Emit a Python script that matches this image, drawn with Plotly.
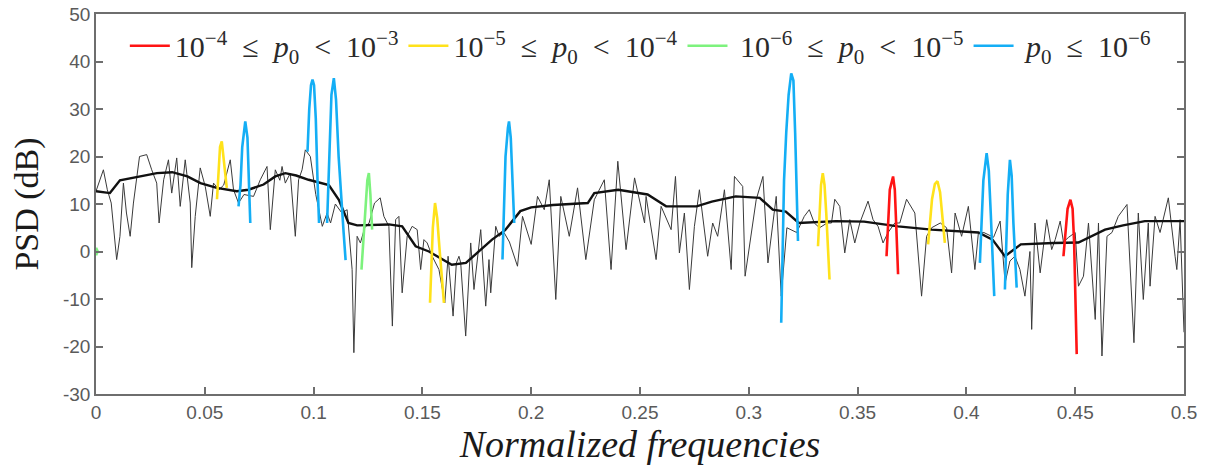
import plotly.graph_objects as go

# ---------------- data ----------------
noisy_freq = [
    0.0, 0.0034, 0.0052, 0.007, 0.0095, 0.011, 0.0126, 0.014, 0.0157, 0.0172,
    0.02, 0.0233, 0.0256, 0.0279, 0.029, 0.0311, 0.0333, 0.0348, 0.0371, 0.0387,
    0.041, 0.0433, 0.044, 0.0456, 0.0479, 0.0502, 0.0525, 0.054, 0.0565, 0.0587,
    0.0617, 0.0632, 0.0655, 0.068, 0.0724, 0.0755, 0.0786, 0.0801, 0.0824, 0.0845,
    0.0855, 0.087, 0.0893, 0.0916, 0.0931, 0.0947, 0.0962, 0.0985, 0.101, 0.104,
    0.1062, 0.1078, 0.11, 0.113, 0.1154, 0.1177, 0.1185, 0.12, 0.1215, 0.1235,
    0.1255, 0.128, 0.1306, 0.1323, 0.1346, 0.1362, 0.1377, 0.1392, 0.1407, 0.143,
    0.1453, 0.1476, 0.1492, 0.1507, 0.1522, 0.1545, 0.1576, 0.1603, 0.1618, 0.1641,
    0.1656, 0.1668, 0.1676, 0.1699, 0.1722, 0.1737, 0.1768, 0.1791, 0.1806, 0.1814,
    0.1837, 0.1852, 0.1875, 0.19, 0.1937, 0.196, 0.2, 0.2029, 0.206, 0.2083,
    0.2113, 0.2136, 0.2175, 0.2213, 0.2251, 0.229, 0.2336, 0.2367, 0.2398, 0.2436,
    0.2475, 0.2521, 0.2528, 0.2551, 0.2574, 0.2597, 0.262, 0.2643, 0.2663, 0.2681,
    0.2704, 0.2727, 0.275, 0.2773, 0.2811, 0.2834, 0.2857, 0.2888, 0.2919, 0.2934,
    0.2972, 0.2983, 0.3034, 0.3065, 0.3088, 0.3126, 0.3149, 0.3175, 0.322, 0.3255,
    0.3278, 0.3301, 0.3325, 0.336, 0.338, 0.3395, 0.3418, 0.3441, 0.3464, 0.3487,
    0.351, 0.3548, 0.3571, 0.3594, 0.3617, 0.364, 0.3671, 0.3694, 0.3725, 0.3763,
    0.3794, 0.3817, 0.384, 0.388, 0.3909, 0.3932, 0.3948, 0.3978, 0.4009, 0.4039,
    0.4055, 0.408, 0.4125, 0.4155, 0.4178, 0.42, 0.4223, 0.4246, 0.4269, 0.4292,
    0.43, 0.4315, 0.4339, 0.4369, 0.4392, 0.4408, 0.4431, 0.4446, 0.447, 0.45,
    0.4515, 0.4538, 0.4561, 0.4592, 0.4607, 0.4623, 0.4646, 0.4669, 0.4698, 0.4738,
    0.477, 0.479, 0.4813, 0.4836, 0.4844, 0.4867, 0.489, 0.4928, 0.4959, 0.4967,
    0.4982, 0.5,
]
noisy_psd = [
    12.7, 17.2, 13, 10.2, -1.7, 3.2, 14.4, 8.1, 3.2, 10.2,
    20, 20.4, 17.2, 14.4, 6, 15.1, 19.3, 12.3, 19.7, 9.5,
    19.3, 10.2, -3.4, 7.4, 17.6, 13.7, 7.4, 14.4, 13, 14,
    19.3, 13, 10.2, 12, 11.6, 15.1, 17.9, 4.6, 17.2, 15,
    17.9, 14.4, 16.5, 3.2, 15.1, 17.2, 21.4, 20, 12, 5.3,
    8.1, 6, 10, 8.1, 8.8, -3.8, -21.3, 3.2, 1.8, 5,
    6, 10.2, 11.3, 7.4, 5.3, -15.7, 6.7, 7.4, -8.7, 3.2,
    5.3, 4.6, -3.8, 2.5, 1.8, -1, -3.8, -10.8, -1, -13.6,
    -2.4, -1, -2.4, -17.8, 1.8, -8, 4.6, -11.5, -1.7, -8.7,
    5.3, 3.2, 4, 2, -3.1, 7.4, 1.5, 11.6, 8.8, 15.1,
    -10.1, 11.6, 3.2, 13.4, -1.7, 10.9, 15.1, -3.8, 19, 0.4,
    15.5, 6, 11.6, 5.3, -1.7, 9.5, 7, 4.6, 15.8, -0.3,
    8.1, -8, 5.3, 13, -1, 6, 3.2, 13, -3.8, 15.8,
    13.7, -5.2, 10.9, 15.8, -2.4, 11.6, -9.4, 5, 4, 7.4,
    8.8, 6, 5, 6, 6, 11, 9.5, -0.3, 6.7, 1.8,
    6, 10.6, 6.7, 5.3, 1.8, 4, 6, 6, 11, 8.1,
    -9.4, 3.2, 5, 6, 5, -4.5, 8.1, 3.2, 9.5, -3.8,
    3.9, 4, 3, 6.4, -6.6, -2, -1, -3.8, -9.4, 0,
    -16.4, 6, -4.5, 6.7, 0.4, 2.5, 6.4, 2, 3, 4,
    -7.3, -5.2, 6, -14.3, 6, -22, 3.2, 4, 7.4, 9.9,
    -19.2, 8.1, -10.1, 6, -7.3, 7.4, 4, 11.3, -1, -3.8,
    6.7, -17,
]

smooth_freq = [
    0, 0.0064, 0.011, 0.02, 0.028, 0.035, 0.042, 0.048, 0.0555, 0.0647,
    0.07, 0.077, 0.0824, 0.087, 0.092, 0.0977, 0.107, 0.1116, 0.116, 0.12,
    0.1346, 0.1407, 0.1469, 0.153, 0.159, 0.1635, 0.17, 0.176, 0.182, 0.188,
    0.195, 0.2, 0.21, 0.226, 0.229, 0.24, 0.2535, 0.262, 0.276, 0.283,
    0.294, 0.305, 0.311, 0.317, 0.323, 0.34, 0.353, 0.3686, 0.384, 0.4055,
    0.412, 0.4177, 0.425, 0.44, 0.4515, 0.4637, 0.472, 0.482, 0.5,
]
smooth_psd = [
    12.7, 12.3, 15, 15.8, 16.5, 16.7, 15.8, 14.4, 13.4, 12.7,
    13, 14.1, 15.8, 16.5, 16, 15.1, 14, 10.9, 6, 5.5,
    5.7, 5.3, 1.1, 0, -1.7, -2.8, -2.4, 0, 2.5, 4.5,
    8.5, 9.3, 9.8, 10.2, 12.3, 13, 12, 9.5, 9.5, 10.5,
    11.6, 11.3, 8.8, 8.4, 6, 6.4, 6.3, 5.3, 4.6, 4,
    2.5, -1, 1.5, 1.8, 1.9, 4.6, 5.5, 6.4, 6.4,
]

# colored detections (None separates separate peaks)
red_freq = [0.3633, 0.364, 0.3648, 0.3663, 0.3671, 0.3678, 0.3686, None,
            0.4446, 0.4455, 0.4465, 0.4478, 0.4488, 0.4495, 0.45, 0.4507]
red_psd = [-1, 7, 13, 15.8, 13, 5, -4.8, None,
           -1, 4, 9, 10.9, 9, 2, -8, -21.6]

yellow_freq = [0.0556, 0.0563, 0.057, 0.0578, 0.0586, 0.0594, 0.0601, None,
               0.1535, 0.154, 0.1548, 0.1558, 0.1568, 0.1578, 0.1588, 0.1599, None,
               0.3318, 0.3325, 0.3332, 0.334, 0.3348, 0.3356, 0.3363, 0.3371, None,
               0.3824, 0.3832, 0.3842, 0.3855, 0.3867, 0.3879, 0.389, 0.3901]
yellow_psd = [11, 17, 22, 23.2, 20, 16, 13.4, None,
              -10.8, -3, 5, 10.2, 7, 1, -5, -10.8, None,
              1.1, 8, 14, 16.5, 14, 8, 1, -5.9, None,
              1.5, 6, 11, 14.2, 14.8, 12.5, 7, 1.8]

green_freq = [0.0, 0.0008, 0.0, None,
              0.122, 0.1228, 0.1238, 0.1247, 0.1254, 0.1261, 0.1269]
green_psd = [0.8, 0, -0.8, None,
             -3.8, 2, 10, 15, 16.5, 12, 4.6]

blue_freq = [0.0655, 0.0664, 0.0672, 0.0686, 0.0696, 0.0702, 0.0709, None,
             0.0972, 0.098, 0.0988, 0.0995, 0.1002, 0.101, 0.1018, 0.1025, None,
             0.1062, 0.1072, 0.1082, 0.1093, 0.1103, 0.1115, 0.1128, 0.1138, 0.1147, None,
             0.1868, 0.1874, 0.1882, 0.1893, 0.1898, 0.1906, 0.1914, 0.1922, None,
             0.3149, 0.3155, 0.3162, 0.3172, 0.3183, 0.3195, 0.3205, 0.3213, 0.322, 0.3226, None,
             0.4062, 0.407, 0.4078, 0.4093, 0.4103, 0.4112, 0.412, 0.4128, None,
             0.4177, 0.4183, 0.419, 0.42, 0.4208, 0.4216, 0.4224, 0.4231]
blue_psd = [9.5, 14, 22, 27.4, 24, 16, 6, None,
            21, 30, 35, 36.2, 35, 28, 15, 6, None,
            6, 20, 33, 36.5, 32, 20, 10, 4, -1.8, None,
            -1.7, 10, 20, 26, 27.4, 24, 14, 6, None,
            -15, 0, 15, 25, 33, 37.5, 36, 25, 12, 2.2, None,
            -2.4, 8, 15, 20.7, 17, 8, 0, -9.4, None,
            -8, 2, 12, 19.3, 16, 6, -2, -7.6]

legend_labels = [
    "10<sup>−4</sup>&nbsp; ≤ &nbsp;<i>p</i><sub>0</sub>&nbsp; &lt; &nbsp;10<sup>−3</sup>",
    "10<sup>−5</sup>&nbsp; ≤ &nbsp;<i>p</i><sub>0</sub>&nbsp; &lt; &nbsp;10<sup>−4</sup>",
    "&nbsp;10<sup>−6</sup>&nbsp; ≤ &nbsp;<i>p</i><sub>0</sub>&nbsp; &lt; &nbsp;10<sup>−5</sup>",
    "&nbsp;<i>p</i><sub>0</sub>&nbsp; ≤ &nbsp;10<sup>−6</sup>",
]

x_ticks = [0, 0.05, 0.1, 0.15, 0.2, 0.25, 0.3, 0.35, 0.4, 0.45, 0.5]
x_tick_text = ["0", "0.05", "0.1", "0.15", "0.2", "0.25", "0.3", "0.35", "0.4", "0.45", "0.5"]
y_ticks = [-30, -20, -10, 0, 10, 20, 30, 40, 50]
y_tick_text = ["-30", "-20", "-10", "0", "10", "20", "30", "40", "50"]

# ---------------- figure ----------------
fig = go.Figure()
fig.add_trace(go.Scatter(x=noisy_freq, y=noisy_psd, mode="lines",
                         line=dict(color="#3a3a3a", width=1), showlegend=False))
fig.add_trace(go.Scatter(x=smooth_freq, y=smooth_psd, mode="lines",
                         line=dict(color="#111111", width=2.4), showlegend=False))

colors = ["#ff1414", "#ffe21a", "#7df27d", "#14aef5"]
series = [(red_freq, red_psd), (yellow_freq, yellow_psd),
          (green_freq, green_psd), (blue_freq, blue_psd)]
for (fx, fy), col, lab in zip(series, colors, legend_labels):
    fig.add_trace(go.Scatter(x=fx, y=fy, mode="lines", name=lab,
                             line=dict(color=col, width=2.6),
                             connectgaps=False))

axis_common = dict(
    showline=True, linecolor="#6e6e6e", linewidth=1.5,
    ticks="inside", ticklen=7, tickcolor="#6e6e6e", tickwidth=1.5,
    showgrid=False, zeroline=False, automargin=False,
    tickfont=dict(family="Liberation Sans, Arial, sans-serif", size=19, color="#5a5a5a"),
)
fig.update_xaxes(range=[0, 0.5], tickvals=x_ticks, ticktext=x_tick_text, mirror=True,
                 title=dict(text="<i>Normalized frequencies</i>", standoff=2,
                            font=dict(family="Liberation Serif", size=38, color="#1a1a1a")),
                 **axis_common)
fig.update_yaxes(range=[-30, 50], tickvals=y_ticks, ticktext=y_tick_text, mirror="ticks",
                 title=dict(text="PSD (dB)", standoff=14,
                            font=dict(family="Liberation Serif", size=34, color="#1a1a1a")),
                 **axis_common)

fig.update_layout(
    width=1206, height=467,
    margin=dict(l=96, r=22, t=14, b=73),
    plot_bgcolor="white", paper_bgcolor="white",
    legend=dict(orientation="h", x=0.0265, y=0.985, xanchor="left", yanchor="top",
                bgcolor="rgba(0,0,0,0)",
                font=dict(family="Liberation Serif", size=30, color="#2a2a2a"),
                itemwidth=40, tracegroupgap=0),
)

# remove the default page margin so the figure sits at the window's corner
fig.write_html("out.html", config={"displayModeBar": False},
               post_script="document.body.style.margin='0';")
